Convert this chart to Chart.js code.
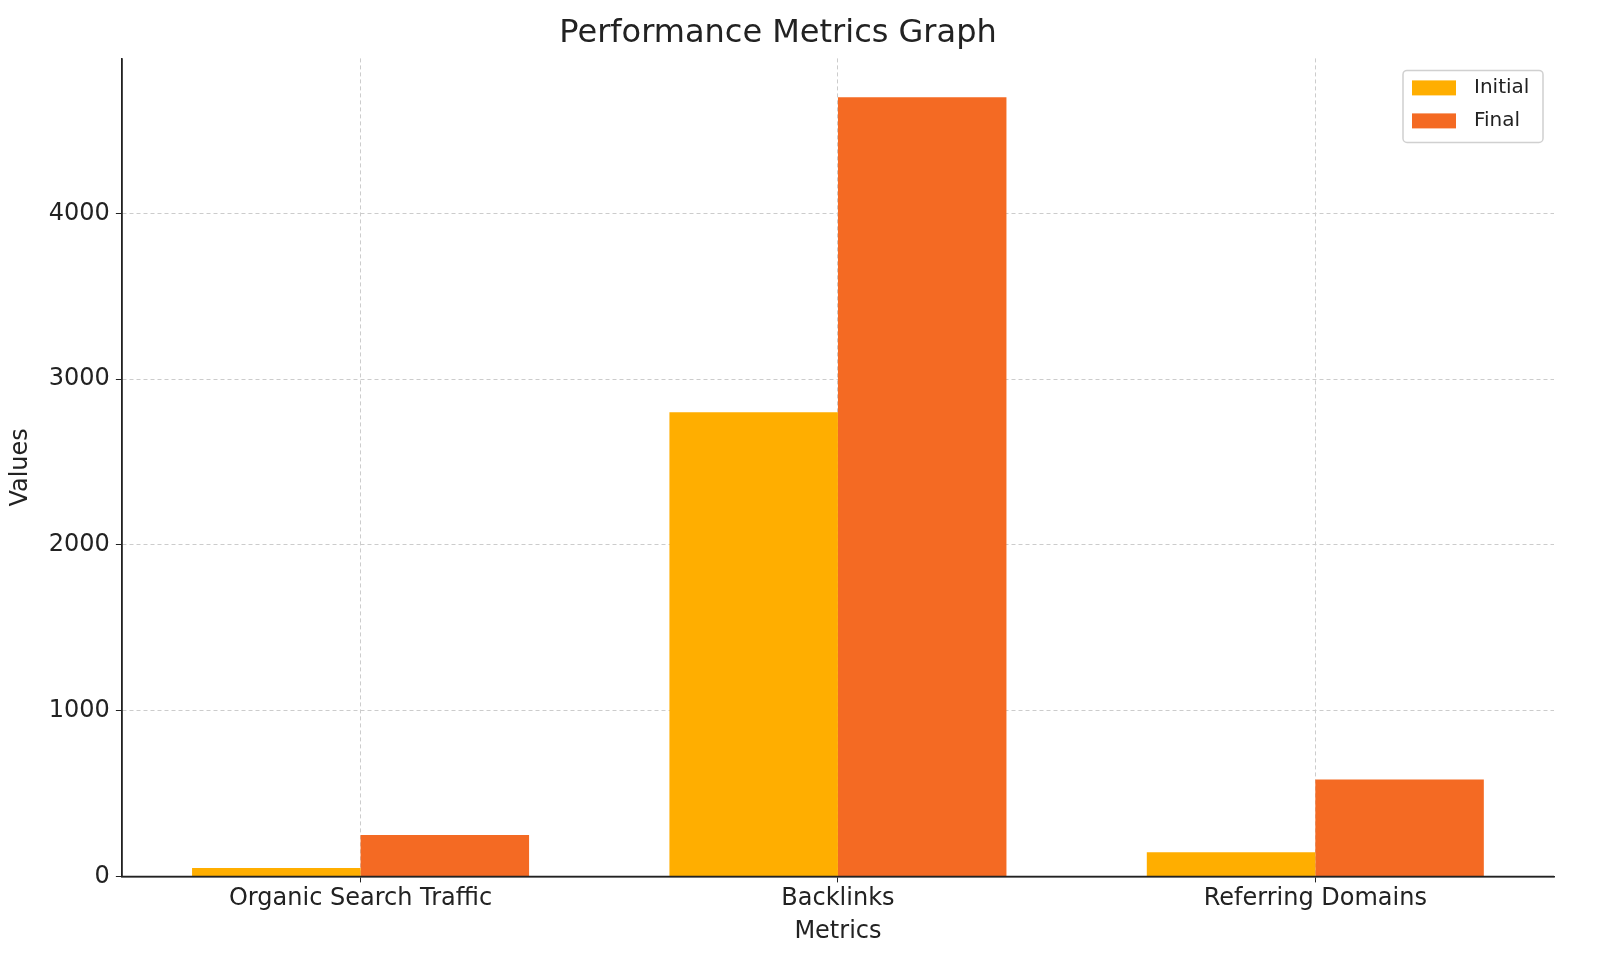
<!DOCTYPE html>
<html><head><meta charset="utf-8">
<script src="https://cdn.jsdelivr.net/npm/chart.js@4"></script>
<style>html,body{margin:0;padding:0;background:#fff}#w{width:1600px;height:954px}</style>
</head><body><div id="w"><canvas id="c"></canvas></div>
<script>
const categories = ["Organic Search Traffic", "Backlinks", "Referring Domains"];
const initialValues = [50, 2800, 145];
const finalValues = [250, 4700, 585];
const yTicks = [0, 1000, 2000, 3000, 4000];
const F = "DejaVu Sans";
const legendPlugin = {
  id: 'inLegend',
  afterDraw(chart) {
    const ctx = chart.ctx, a = chart.chartArea;
    const w = 140, h = 72, x = a.right - w - 11, y = a.top + 12;
    ctx.save();
    ctx.fillStyle = 'rgba(255,255,255,0.8)';
    ctx.strokeStyle = '#d0d0d0'; ctx.lineWidth = 1.5;
    ctx.beginPath(); ctx.roundRect(x, y, w, h, 4); ctx.fill(); ctx.stroke();
    ctx.font = `20px "${F}"`; ctx.textBaseline = 'middle';
    chart.data.datasets.forEach((d, i) => {
      const yy = y + 17 + i * 33;
      ctx.fillStyle = d.backgroundColor; ctx.fillRect(x + 9, yy - 7, 44, 15);
      ctx.fillStyle = '#222'; ctx.fillText(d.label, x + 71, yy);
    });
    ctx.restore();
  }
};
new Chart(document.getElementById('c'), {
  type: 'bar',
  data: { labels: categories, datasets: [
    { label: 'Initial', data: initialValues, backgroundColor: '#FFAE00' },
    { label: 'Final', data: finalValues, backgroundColor: '#F46A23' }
  ]},
  options: {
    responsive: true, maintainAspectRatio: false, animation: false,
    layout: { padding: { left: 2, right: 46, top: 8, bottom: 4 } },
    datasets: { bar: { categoryPercentage: 0.706, barPercentage: 1 } },
    plugins: {
      legend: { display: false }, tooltip: { enabled: false },
      title: { display: true, text: 'Performance Metrics Graph', color: '#222',
        font: { family: F, size: 32, weight: 'normal' }, padding: { top: 6, bottom: 6 } }
    },
    scales: {
      x: {
        offset: true,
        grid: { offset: false, color: '#cccccc', tickLength: 6, tickColor: '#222' },
        border: { color: '#222', width: 1.5, dash: [4,3] },
        ticks: { color: '#222', font: { family: F, size: 24 }, padding: 2 },
        title: { display: true, text: 'Metrics', color: '#222', font: { family: F, size: 24 }, padding: { top: 2 } }
      },
      y: {
        min: 0, max: 4935,
        afterBuildTicks: s => { s.ticks = yTicks.map(v => ({ value: v })); },
        grid: { color: '#cccccc', tickLength: 6, tickColor: '#222' },
        border: { color: '#222', width: 1.5, dash: [4,3] },
        ticks: { color: '#222', font: { family: F, size: 24 }, padding: 6, callback: v => String(v) },
        title: { display: true, text: 'Values', color: '#222', font: { family: F, size: 24 }, padding: { bottom: 8 } }
      }
    }
  },
  plugins: [legendPlugin, {
    id: 'spines',
    afterDatasetsDraw(chart) {
      const ctx = chart.ctx, a = chart.chartArea;
      ctx.save(); ctx.strokeStyle = '#222'; ctx.lineWidth = 1.5; ctx.setLineDash([]);
      ctx.beginPath(); ctx.moveTo(a.left, a.top); ctx.lineTo(a.left, a.bottom); ctx.lineTo(a.right, a.bottom); ctx.stroke();
      ctx.restore();
    }
  }]
});
</script></body></html>
